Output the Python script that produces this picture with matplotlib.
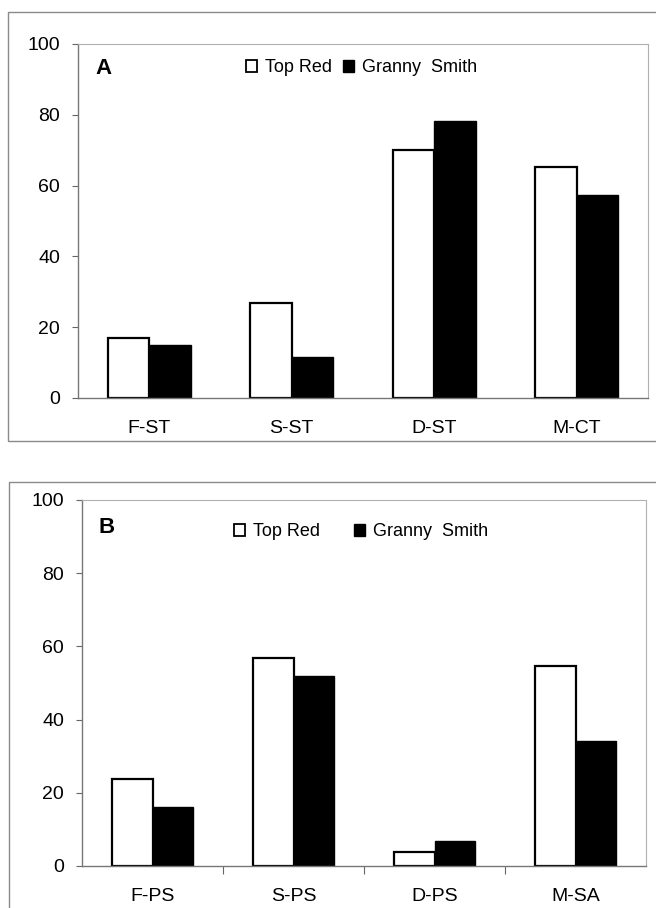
import numpy as np
import matplotlib.pyplot as plt
from matplotlib.patches import Patch, Rectangle

plt.rcParams['font.family'] = ['Liberation Sans', 'DejaVu Sans']

# panel A
cats_a = ["F-ST", "S-ST", "D-ST", "M-CT"]
top_red_a = [17.0, 26.7, 70.1, 65.2]
granny_a = [15.0, 11.7, 78.3, 57.3]

# panel B
cats_b = ["F-PS", "S-PS", "D-PS", "M-SA"]
top_red_b = [23.8, 56.9, 3.8, 54.7]
granny_b = [16.1, 51.8, 6.8, 34.1]

yticks = [0, 20, 40, 60, 80, 100]

W, H = 656, 908
fig = plt.figure(figsize=(W / 100, H / 100), dpi=100)


def fx(px):
    return px / W


def fy(py):
    return 1 - py / H


def panel(rect, cats, tr, gs, letter, legend_x, legend_y, colspace, boundary_ticks):
    ax = fig.add_axes(rect)
    x = np.arange(len(cats))
    w = 0.29
    ax.bar(x - w / 2, tr, w, color='white', edgecolor='black', linewidth=1.6)
    ax.bar(x + w / 2, gs, w, color='black', edgecolor='black', linewidth=1.0)
    ax.set_xlim(-0.5, len(cats) - 0.5)
    ax.set_ylim(0, 100)
    ax.set_yticks(yticks)
    ax.set_yticklabels([str(v) for v in yticks])
    ax.set_xticks(x)
    ax.set_xticklabels(cats)
    ax.tick_params(axis='x', length=0, pad=16, labelsize=14)
    ax.tick_params(axis='y', length=4, width=0.8, color='#666666', pad=9, labelsize=14)
    if boundary_ticks:
        ax.set_xticks(np.arange(0.5, len(cats) - 1, 1.0), minor=True)
        ax.tick_params(axis='x', which='minor', length=6, width=0.8, color='#666666')
    for s in ['top', 'right']:
        ax.spines[s].set_color('#b0b0b0')
        ax.spines[s].set_linewidth(0.8)
    for s in ['left', 'bottom']:
        ax.spines[s].set_color('#777777')
        ax.spines[s].set_linewidth(1.0)
    ax.text(0.03, 0.93 if letter == 'A' else 0.925, letter, transform=ax.transAxes,
            fontsize=16, fontweight='bold', va='center', ha='left')
    handles = [Patch(facecolor='white', edgecolor='black', linewidth=1.3, label='Top Red'),
               Patch(facecolor='black', edgecolor='black', label='Granny  Smith')]
    fig.legend(handles=handles, loc='center left', bbox_to_anchor=(fx(legend_x), fy(legend_y)),
               ncol=2, frameon=False, fontsize=13, borderpad=0, handlelength=0.6,
               handleheight=0.6, handletextpad=0.45, columnspacing=colspace)
    return ax


# outer frames round each panel
fig.patches.append(Rectangle((fx(8), fy(441)), fx(660) - fx(8), fy(12) - fy(441),
                             transform=fig.transFigure, fill=False,
                             edgecolor='#8a8a8a', linewidth=1.0))
fig.patches.append(Rectangle((fx(9), fy(915)), fx(660) - fx(9), fy(482) - fy(915),
                             transform=fig.transFigure, fill=False,
                             edgecolor='#8a8a8a', linewidth=1.0))

panel([fx(78), fy(398), fx(648) - fx(78), fy(44) - fy(398)],
      cats_a, top_red_a, granny_a, 'A', 237, 68, 0.6, False)
panel([fx(82), fy(866), fx(646) - fx(82), fy(500) - fy(866)],
      cats_b, top_red_b, granny_b, 'B', 225, 532, 1.9, True)

fig.savefig('out.png', dpi=100)
